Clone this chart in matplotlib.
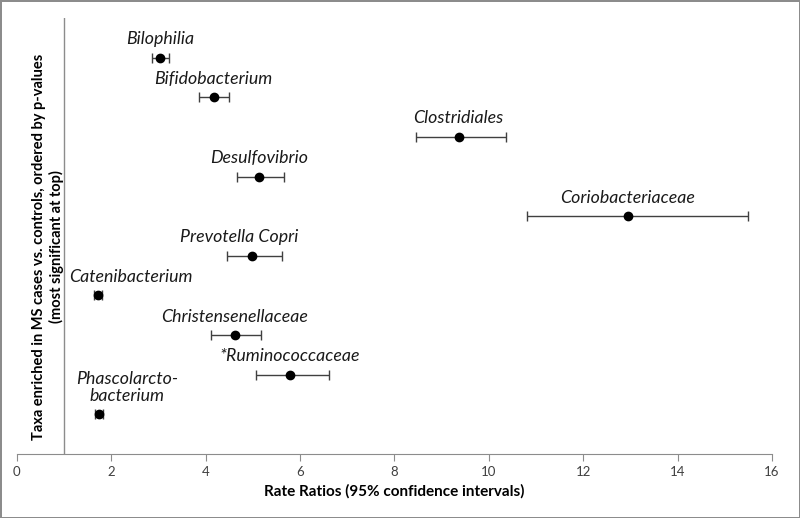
import matplotlib.pyplot as plt

plt.rcParams['font.family'] = ['Lato', 'DejaVu Sans']

# taxa ordered by p-value (most significant at top)
taxa = ['Bilophilia', 'Bifidobacterium', 'Clostridiales', 'Desulfovibrio',
        'Coriobacteriaceae', 'Prevotella Copri', 'Catenibacterium',
        'Christensenellaceae', '*Ruminococcaceae', 'Phascolarcto-\nbacterium']
rate_ratio = [3.03, 4.17, 9.36, 5.14, 12.95, 4.98, 1.72, 4.62, 5.78, 1.74]
ci_low = [2.86, 3.86, 8.45, 4.66, 10.80, 4.45, 1.64, 4.11, 5.06, 1.66]
ci_high = [3.22, 4.49, 10.36, 5.66, 15.49, 5.61, 1.80, 5.17, 6.61, 1.82]

# label offsets (points) for the few names that are not centred on their dot
label_dx = {'Catenibacterium': 24, 'Prevotella Copri': -9,
            'Phascolarcto-\nbacterium': 20}

fig = plt.figure(figsize=(8, 5.18), dpi=100, edgecolor='#8c8c8c', linewidth=2)
ax = fig.add_axes([0.021, 0.1236, 0.944, 0.8417])

n = len(taxa)
ypos = list(range(n, 0, -1))
err = [[r - lo for r, lo in zip(rate_ratio, ci_low)],
       [hi - r for r, hi in zip(rate_ratio, ci_high)]]

ax.errorbar(rate_ratio, ypos, xerr=err, fmt='o', color='black', markersize=6,
            ecolor='#404040', elinewidth=1, capsize=3.5, capthick=1)

for name, x, y in zip(taxa, rate_ratio, ypos):
    dx = label_dx.get(name, 0)
    ax.annotate(name, (x, y), xytext=(dx, 7.5), textcoords='offset points',
                ha='center', va='bottom', fontsize=12.8, style='italic',
                color='#1a1a1a', linespacing=1.1)

ax.axvline(1, color='#8c8c8c', linewidth=1)

ax.set_xlim(0, 16)
ax.set_ylim(0, n + 1)
ax.set_xticks(range(0, 17, 2))
ax.set_yticks([])
for s in ['top', 'right', 'left']:
    ax.spines[s].set_visible(False)
ax.spines['bottom'].set_color('#8c8c8c')
ax.tick_params(axis='x', colors='#8c8c8c', labelcolor='#404040',
               labelsize=9.5, length=5, pad=4)

ax.set_xlabel('Rate Ratios (95% confidence intervals)', fontsize=11,
              fontweight='bold', labelpad=4)
ax.text(0.041, 0.475, 'Taxa enriched in MS cases vs. controls, ordered by p-values\n(most significant at top)',
        transform=ax.transAxes, rotation=90, ha='center', va='center',
        fontsize=10.5, fontweight='bold', linespacing=1.25)

fig.savefig('out.png', dpi=100, edgecolor=fig.get_edgecolor())
